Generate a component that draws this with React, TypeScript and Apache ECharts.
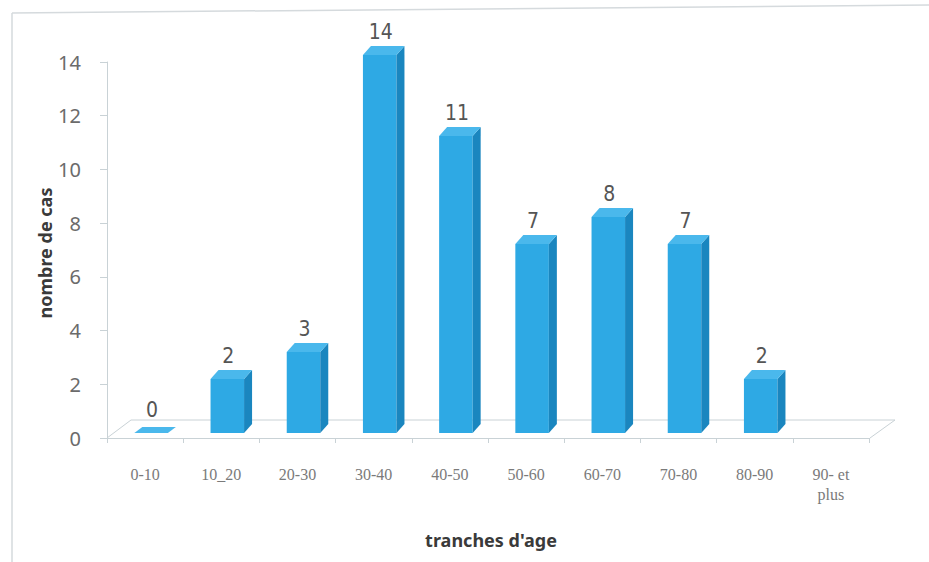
import React, { useEffect, useRef } from "react";
import * as echarts from "echarts";

const categories = ["0-10", "10_20", "20-30", "30-40", "40-50", "50-60", "60-70", "70-80", "80-90", "90- et\nplus"];
const values: (number | null)[] = [0, 2, 3, 14, 11, 7, 8, 7, 2, null];
const yTicks = { min: 0, max: 14, interval: 2 };
const xTitle = "tranches d'age";
const yTitle = "nombre de cas";

const FRONT = "#2ea9e4";
const SIDE = "#1a86bf";
const TOP = "#4ab8ec";

export default function App() {
  const ref = useRef<HTMLDivElement>(null);
  useEffect(() => {
    if (!ref.current) return;
    const chart = echarts.init(ref.current, undefined, { renderer: "svg" });
    const renderItem = (params: any, api: any) => {
      const v = api.value(1);
      if (v === null || v === undefined || isNaN(v)) return null;
      const idx = api.value(0);
      const base = api.coord([idx, 0]);
      const top = api.coord([idx, v]);
      const band = api.size([1, 0])[0];
      const w = band * 0.44;
      const x0 = base[0] - w / 2;
      const x1 = base[0] + w / 2;
      const yb = base[1];
      const yt = top[1];
      const dx = 8;
      const dy = v === 0 ? -6 : -9;
      const children: any[] = [];
      if (v > 0) {
        children.push({
          type: "polygon",
          shape: { points: [[x0, yt], [x1, yt], [x1, yb], [x0, yb]] },
          style: { fill: FRONT },
        });
        children.push({
          type: "polygon",
          shape: { points: [[x1, yt], [x1 + dx, yt + dy], [x1 + dx, yb + dy], [x1, yb]] },
          style: { fill: SIDE },
        });
      }
      children.push({
        type: "polygon",
        shape: { points: [[x0, yt], [x1, yt], [x1 + dx, yt + dy], [x0 + dx, yt + dy]] },
        style: { fill: TOP },
      });
      children.push({
        type: "text",
        style: {
          text: String(v),
          x: (x0 + x1) / 2 + 1,
          y: yt - 23,
          align: "center",
          verticalAlign: "middle",
          fontSize: 21,
          fontFamily: "'Liberation Sans Narrow', 'DejaVu Sans Condensed', sans-serif",
          fill: "#555555",
        },
      });
      return { type: "group", children };
    };
    chart.setOption({
      animation: false,
      backgroundColor: "#ffffff",
      grid: [
        { left: 107, right: 60, top: 62, bottom: 124 },
        { left: 113, right: 54, top: 55, bottom: 129 },
      ],
      xAxis: [
        {
          type: "category",
          gridIndex: 0,
          data: categories,
          axisLine: { show: true, lineStyle: { color: "#c9d2d6" } },
          axisTick: { show: true, length: 5, lineStyle: { color: "#c9d2d6" } },
          axisLabel: {
            margin: 26,
            fontSize: 16,
            lineHeight: 20,
            color: "#7a7a7a",
            fontFamily: "'Liberation Serif', serif",
          },
        },
        { type: "category", gridIndex: 1, data: categories, show: false },
      ],
      yAxis: [
        {
          type: "value",
          gridIndex: 0,
          ...yTicks,
          axisLine: { show: true, lineStyle: { color: "#c9d2d6" } },
          axisTick: { show: true, length: 7, lineStyle: { color: "#c9d2d6" } },
          splitLine: { show: false },
          axisLabel: {
            margin: 26,
            fontSize: 20,
            color: "#6b6b6b",
            fontFamily: "'Noto Sans', sans-serif",
          },
        },
        { type: "value", gridIndex: 1, ...yTicks, show: false },
      ],
      series: [
        {
          type: "custom",
          xAxisIndex: 1,
          yAxisIndex: 1,
          renderItem,
          data: values.map((v, i) => [i, v === null ? NaN : v]),
          encode: { x: 0, y: 1 },
          z: 5,
        },
      ],
      graphic: [
        { type: "line", shape: { x1: 12, y1: 13, x2: 929, y2: 5 }, style: { stroke: "#d5dadd", lineWidth: 1.5 } },
        { type: "line", shape: { x1: 12, y1: 13, x2: 12, y2: 562 }, style: { stroke: "#d5dadd", lineWidth: 1.5 } },
        {
          type: "polyline",
          shape: { points: [[107, 438], [131, 420], [895, 420], [870, 438]] },
          style: { stroke: "#c9d2d6", lineWidth: 1, fill: "none" },
          z: 1,
        },
        {
          type: "text",
          x: 491,
          y: 540,
          style: {
            text: xTitle,
            align: "center",
            verticalAlign: "middle",
            fontSize: 18,
            fontWeight: "bold",
            fontFamily: "'Noto Sans', sans-serif",
            fill: "#3a3a3a",
          },
        },
        {
          type: "text",
          x: 45,
          y: 253,
          rotation: Math.PI / 2,
          style: {
            text: yTitle,
            align: "center",
            verticalAlign: "middle",
            fontSize: 18,
            fontWeight: "bold",
            fontFamily: "'Noto Sans', sans-serif",
            fill: "#3a3a3a",
          },
        },
      ],
    });
    return () => chart.dispose();
  }, []);
  return <div ref={ref} style={{ width: 929, height: 562, position: "fixed", left: 0, top: 0 }} />;
}
